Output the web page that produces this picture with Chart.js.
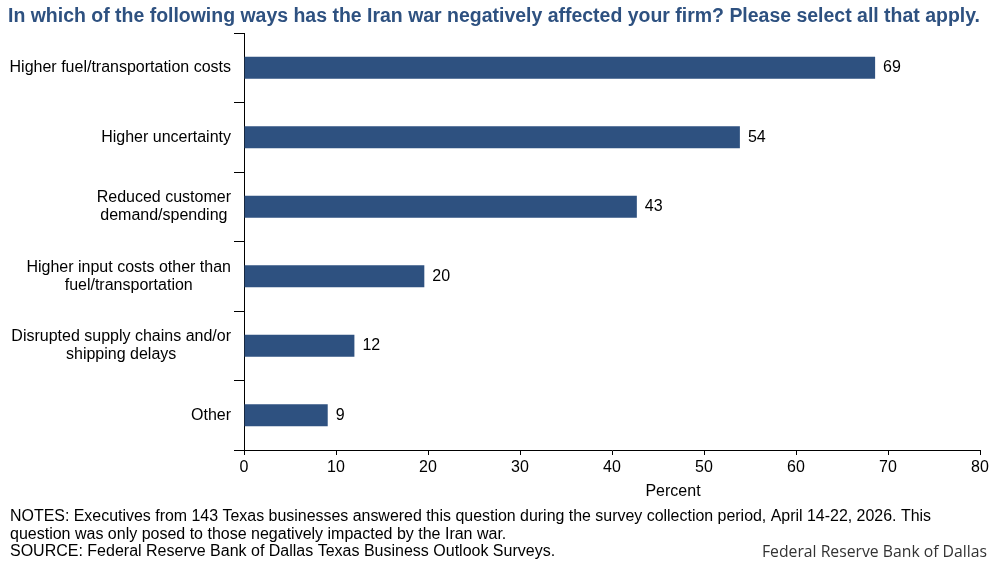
<!DOCTYPE html>
<html>
<head>
<meta charset="utf-8">
<script src="https://cdn.jsdelivr.net/npm/chart.js@4"></script>
<style>
html, body { margin: 0; padding: 0; background: #fff; }
#wrap { width: 997px; height: 565px; }
</style>
</head>
<body>
<div id="wrap"><canvas id="myChart" width="997" height="565"></canvas></div>
<script>
const categories = [
	["Higher fuel/transportation costs"],
	["Higher uncertainty"],
	["Reduced customer", "demand/spending"],
	["Higher input costs other than", "fuel/transportation"],
	["Disrupted supply chains and/or", "shipping delays"],
	["Other"]
];
const percents = [68.6, 53.9, 42.7, 19.6, 12.0, 9.1];
const xTicks = [0, 10, 20, 30, 40, 50, 60, 70, 80];

const title = "In which of the following ways has the Iran war negatively affected your firm? Please select all that apply.";
const xTitle = "Percent";
const notes1 = "NOTES: Executives from 143 Texas businesses answered this question during the survey collection period, April 14-22, 2026. This";
const notes2 = "question was only posed to those negatively impacted by the Iran war.";
const source = "SOURCE: Federal Reserve Bank of Dallas Texas Business Outlook Surveys.";
const credit = "Federal Reserve Bank of Dallas";

const barColor = "#2e5180";
const font = "Liberation Sans, Arial, sans-serif";

// draws title, y labels, value labels and notes
const extras = {
	id: "extras",
	afterDraw(chart) {
		const c = chart.ctx;
		const y = chart.scales.y;
		c.save();
		c.fillStyle = "#2e5180";
		c.font = "bold 20px " + font;
		c.textBaseline = "middle";
		c.textAlign = "left";
		c.fillText(title, 8, 16, 972);

		// category labels: right aligned block, lines centred in it
		c.fillStyle = "#000";
		c.font = "16px " + font;
		categories.forEach((lines, i) => {
			const cy = y.getPixelForValue(i);
			let w = 0;
			for (const l of lines) w = Math.max(w, c.measureText(l).width);
			const cx = 231 - w / 2;
			c.textAlign = "center";
			lines.forEach((l, j) => {
				c.fillText(l, cx, cy + (j - (lines.length - 1) / 2) * 18);
			});
		});

		// value labels
		const meta = chart.getDatasetMeta(0);
		c.textAlign = "left";
		meta.data.forEach((bar, i) => {
			c.fillText(String(Math.round(percents[i])), bar.x + 8, bar.y);
		});

		// axis title sits right of centre in the original
		c.textAlign = "center";
		c.fillText(xTitle, 673, 492);

		// notes
		c.textAlign = "left";
		c.fillText(notes1, 10, 517, 921);
		c.fillText(notes2, 10, 535);
		c.fillText(source, 10, 552);

		c.fillStyle = "#333";
		c.font = "14px 'Open Sans', sans-serif";
		const cw = c.measureText(credit).width;
		c.font = (14 * 225 / cw).toFixed(2) + "px 'Open Sans', sans-serif";
		c.textAlign = "right";
		c.fillText(credit, 987, 553);
		c.restore();
	}
};

const ctx = document.getElementById("myChart");
new Chart(ctx, {
	type: "bar",
	data: {
		labels: categories,
		datasets: [{
			data: percents,
			backgroundColor: barColor,
			borderWidth: 0,
			barPercentage: 0.32,
			categoryPercentage: 1
		}]
	},
	options: {
		indexAxis: "y",
		responsive: false,
		animation: false,
		devicePixelRatio: 1,
		layout: { padding: { top: 33, left: 234, right: 17, bottom: 61 } },
		plugins: { legend: { display: false }, tooltip: { enabled: false } },
		scales: {
			y: {
				offset: true,
				grid: { offset: true, drawOnChartArea: false, color: "#000", tickLength: 10 },
				border: { color: "#000" },
				ticks: { display: false },
				afterFit(s) { s.width = 10; }
			},
			x: {
				min: 0,
				max: 80,
				afterBuildTicks(s) { s.ticks = xTicks.map(v => ({ value: v })); },
				grid: { drawOnChartArea: false, color: "#000", tickLength: 5 },
				border: { color: "#000" },
				ticks: { color: "#000", padding: 3, maxRotation: 0, font: { family: font, size: 16 } },
				afterFit(s) { s.height = 54; }
			}
		}
	},
	plugins: [extras]
});
</script>
</body>
</html>
